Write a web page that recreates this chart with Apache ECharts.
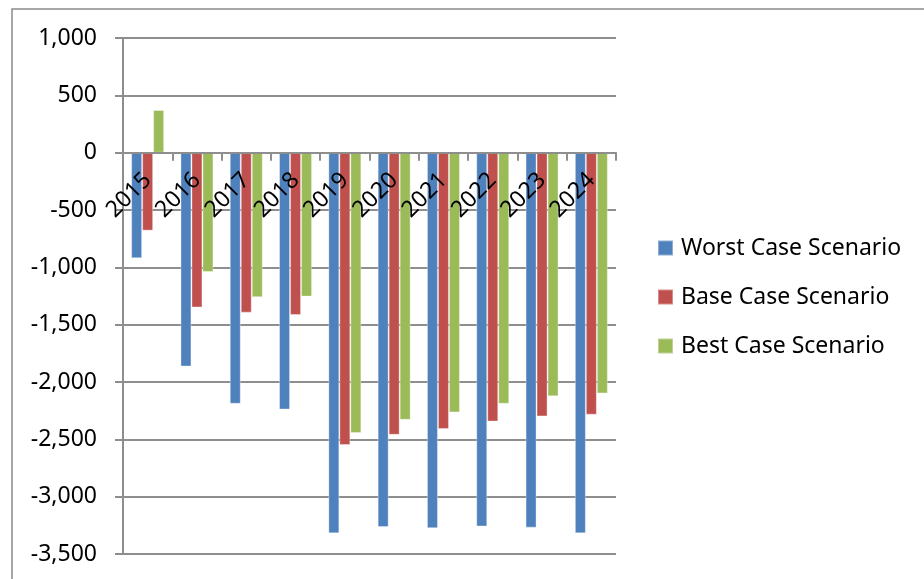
<!DOCTYPE html>
<html>
<head>
<meta charset="utf-8">
<script src="https://cdn.jsdelivr.net/npm/echarts@6/dist/echarts.min.js"></script>
<style>
  html, body { margin: 0; padding: 0; background: #fff; }
  #main { width: 924px; height: 579px; }
</style>
</head>
<body>
<div id="main"></div>
<script>
const years = ['2015', '2016', '2017', '2018', '2019', '2020', '2021', '2022', '2023', '2024'];
const worstCase = [-920, -1865, -2190, -2240, -3320, -3265, -3275, -3260, -3270, -3320];
const baseCase = [-680, -1350, -1395, -1415, -2550, -2460, -2410, -2345, -2300, -2285];
const bestCase = [372, -1040, -1260, -1255, -2445, -2330, -2265, -2190, -2125, -2100];
const seriesNames = ['Worst Case Scenario', 'Base Case Scenario', 'Best Case Scenario'];

const chart = echarts.init(document.getElementById('main'), null, {
  width: 924,
  height: 579
});

const font = '"Noto Sans", "Open Sans", sans-serif';
const gridGray = '#8e8e8e';
const gridTop = 38;
const gridHeight = 516;

function makeBar(name, data, color) {
  return {
    name: name,
    type: 'bar',
    barWidth: 11,
    barGap: '0%',
    data: data,
    itemStyle: {
      color: color,
      borderColor: 'rgba(255,255,255,0.35)',
      borderWidth: 1
    }
  };
}

var option = {
  backgroundColor: '#fff',
  animation: false,
  color: ['#4F81BD', '#C0504D', '#9BBB59'],
  textStyle: { fontFamily: font },
  // outer chart frame (only top/left visible in the picture)
  graphic: [{
    type: 'rect',
    shape: { x: 12, y: 9, width: 940, height: 600 },
    style: { fill: 'none', stroke: '#8a8a8a', lineWidth: 1.5 },
    silent: true
  }],
  grid: {
    left: 123,
    width: 493,
    top: gridTop,
    height: gridHeight,
    containLabel: false,
    outerBoundsMode: 'none'
  },
  legend: {
    orient: 'vertical',
    left: 657,
    top: 236,
    padding: 0,
    itemWidth: 15,
    itemHeight: 15,
    itemGap: 25,
    icon: 'rect',
    data: seriesNames,
    textStyle: {
      fontFamily: font,
      fontSize: 23,
      color: '#000',
      lineHeight: 24,
      padding: [0, 0, 0, 3]
    }
  },
  xAxis: {
    type: 'category',
    data: years,
    position: 'bottom',
    z: 5, // labels sit on top of the bars
    // pull the whole axis up to the zero line (labels included)
    offset: -gridHeight * 3500 / 4500,
    axisLine: { onZero: false, lineStyle: { color: gridGray, width: 2 } },
    axisTick: { show: true, length: 8, lineStyle: { color: gridGray, width: 2 } },
    axisLabel: {
      rotate: 45,
      margin: 24,
      fontFamily: font,
      fontSize: 23,
      color: '#000'
    },
    splitLine: { show: false }
  },
  yAxis: {
    type: 'value',
    min: -3500,
    max: 1000,
    interval: 500,
    axisLine: { show: true, lineStyle: { color: gridGray, width: 2 } },
    axisTick: { show: true, length: 8, lineStyle: { color: gridGray, width: 2 } },
    axisLabel: {
      margin: 26,
      fontFamily: font,
      fontSize: 23,
      color: '#000',
      formatter: function (v) {
        return v.toLocaleString('en-US');
      }
    },
    splitLine: { lineStyle: { color: gridGray, width: 2 } }
  },
  series: [
    makeBar(seriesNames[0], worstCase, '#4F81BD'),
    makeBar(seriesNames[1], baseCase, '#C0504D'),
    makeBar(seriesNames[2], bestCase, '#9BBB59')
  ]
};

chart.setOption(option);
</script>
</body>
</html>
